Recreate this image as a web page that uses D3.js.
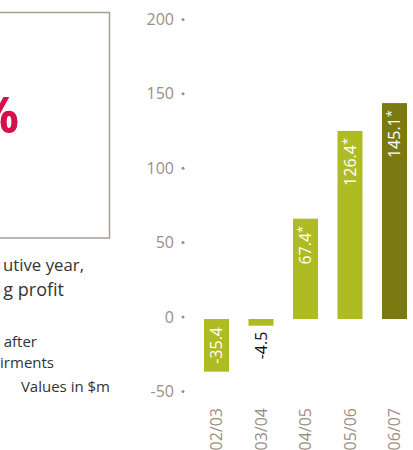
<!DOCTYPE html>
<html><head><meta charset="utf-8">
<script src="https://cdn.jsdelivr.net/npm/d3@7"></script>
<style>
html,body{margin:0;padding:0;background:#fff;overflow:hidden}
svg{display:block;font-family:"Open Sans",sans-serif}
</style></head>
<body><svg id="c" width="413" height="450"></svg>
<script>
const categories = ["02/03","03/04","04/05","05/06","06/07"];
const values = [-35.4, -4.5, 67.4, 126.4, 145.1];
const labels = ["-35.4","-4.5","67.4","126.4","145.1"];
const starred = [false,false,true,true,true];
const tickValues = [-50,0,50,100,150,200];
const leftLines = ["utive year,","g profit"];
const noteLines = ["after","irments"];
const unitText = "Values in $m";

const svg = d3.select("#c");
const light = "#afbb23", dark = "#7b7a10", grey = "#9b8f84";

// left panel
svg.append("rect").attr("x",-10).attr("y",12.5).attr("width",119.5).attr("height",225.5)
  .attr("fill","none").attr("stroke","#a89e94").attr("stroke-width",1.5);
svg.append("text").attr("x",19).attr("y",133).attr("text-anchor","end")
  .attr("font-size",50).attr("font-weight",700).attr("fill","#d3124c").text("%");
leftLines.forEach((t,i)=>svg.append("text").attr("x",[84,64][i]).attr("y",[271,296][i])
  .attr("text-anchor","end").attr("font-size",[16.8,18][i]).attr("fill","#333").text(t));
noteLines.forEach((t,i)=>svg.append("text").attr("x",[37,54][i]).attr("y",[347,368][i])
  .attr("text-anchor","end").attr("font-size",15).attr("fill","#333").text(t));
svg.append("text").attr("x",110).attr("y",392).attr("text-anchor","end")
  .attr("font-size",15).attr("fill","#333").text(unitText);

// chart
const y = d3.scaleLinear().domain([-50,200]).range([393.4,21.4]);
const x = d3.scaleBand().domain(categories).range([194.25,416.75]).paddingInner(0.438).paddingOuter(0.219);

const tg = svg.append("g");
tickValues.forEach(v=>{
  tg.append("text").attr("x",174).attr("y",y(v)-2).attr("dy","0.35em").attr("text-anchor","end")
    .attr("font-size",16).attr("fill",grey).text(v);
  tg.append("circle").attr("cx",183).attr("cy",y(v)-2).attr("r",1.5).attr("fill",grey);
});

svg.selectAll("rect.bar").data(categories).enter().append("rect").attr("class","bar")
  .attr("x",d=>x(d)).attr("width",x.bandwidth())
  .attr("y",(d,i)=>y(Math.max(0,values[i])))
  .attr("height",(d,i)=>Math.abs(y(values[i])-y(0)))
  .attr("fill",(d,i)=>i===4?dark:light);

categories.forEach((c,i)=>{
  const v = values[i];
  const cx = x(c)+x.bandwidth()/2;
  let ty, col = "#fff";
  if (v>=0) ty = y(v)+7;
  else if (Math.abs(y(v)-y(0))>30) ty = y(0)+8;
  else { ty = y(v)+6; col = "#111"; }
  const t = svg.append("text").attr("transform",`translate(${cx},${ty}) rotate(-90)`)
    .attr("dy","0.35em").attr("text-anchor","end").attr("font-size",16).attr("fill",col);
  t.append("tspan").text(labels[i]);
  if (starred[i]) t.append("tspan").attr("font-size",13).attr("dy","-0.3em").text("*");
  svg.append("text").attr("transform",`translate(${cx},408) rotate(-90)`)
    .attr("dy","0.35em").attr("text-anchor","end").attr("font-size",16).attr("fill",grey).text(c);
});
</script></body></html>
